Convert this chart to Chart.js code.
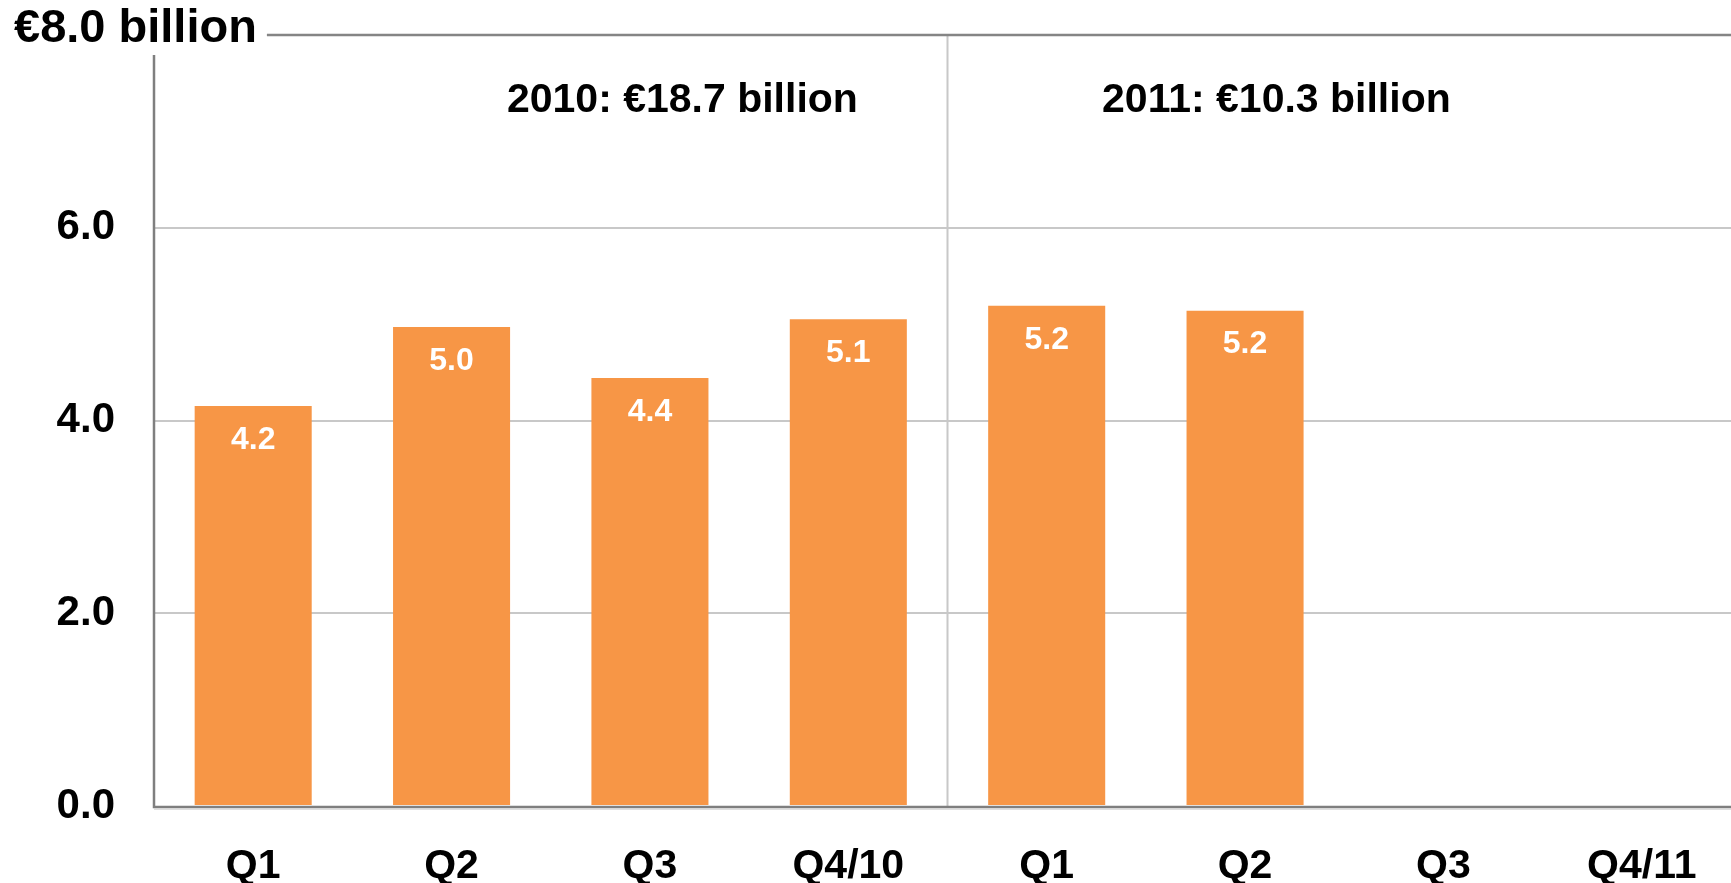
<!DOCTYPE html>
<html>
<head>
<meta charset="utf-8">
<script src="https://cdn.jsdelivr.net/npm/chart.js@4"></script>
<style>
  body { margin: 0; overflow: hidden; background: #fff; }
  #wrap { width: 1745px; height: 883px; }
</style>
</head>
<body>
<div id="wrap"><canvas id="RevenueChart"></canvas></div>
<script>
var quarters = ['Q1', 'Q2', 'Q3', 'Q4/10', 'Q1', 'Q2', 'Q3', 'Q4/11'];
var revenue = [4.15, 4.97, 4.44, 5.05, 5.19, 5.14, null, null];
var revenueLabels = ['4.2', '5.0', '4.4', '5.1', '5.2', '5.2', '', ''];
var yearTotals = ['2010: €18.7 billion', '2011: €10.3 billion'];
var yearLabelAt = [2, 5];
var axisTitle = '€8.0 billion';

var FONT = "'Liberation Sans', Arial, sans-serif";

var decor = {
    id: 'decor',
    beforeDatasetsDraw: function (chart) {
        var c = chart.ctx, area = chart.chartArea;
        var x = chart.scales.x, y = chart.scales.y;
        c.save();
        // year divider
        var mid = (x.getPixelForValue(3) + x.getPixelForValue(4)) / 2;
        c.strokeStyle = '#c8c8c8';
        c.lineWidth = 2;
        c.beginPath();
        c.moveTo(mid, y.getPixelForValue(8));
        c.lineTo(mid, area.bottom);
        c.stroke();
        // top line at 8.0
        c.font = 'bold 47px ' + FONT;
        var w = c.measureText(axisTitle).width;
        c.strokeStyle = '#858585';
        c.lineWidth = 2.5;
        c.beginPath();
        c.moveTo(14 + w + 10, y.getPixelForValue(8));
        c.lineTo(area.right, y.getPixelForValue(8));
        c.stroke();
        c.restore();
    },
    afterDatasetsDraw: function (chart) {
        var c = chart.ctx, area = chart.chartArea;
        var x = chart.scales.x, y = chart.scales.y;
        var meta = chart.getDatasetMeta(0);
        c.save();
        // axes
        c.strokeStyle = '#7f7f7f';
        c.lineWidth = 2.5;
        c.beginPath();
        c.moveTo(area.left, y.getPixelForValue(8) + 20);
        c.lineTo(area.left, area.bottom + 1);
        c.lineTo(area.right, area.bottom + 1);
        c.stroke();
        c.strokeStyle = '#d4d4d4';
        c.lineWidth = 1.5;
        c.beginPath();
        c.moveTo(area.left, area.bottom + 3);
        c.lineTo(area.right, area.bottom + 3);
        c.stroke();
        // value labels
        c.fillStyle = '#ffffff';
        c.font = 'bold 32px ' + FONT;
        c.textAlign = 'center';
        c.textBaseline = 'middle';
        meta.data.forEach(function (bar, i) {
            if (revenue[i] == null) return;
            c.fillText(revenueLabels[i], bar.x, bar.y + 34);
        });
        // year totals
        c.fillStyle = '#000000';
        c.font = 'bold 41px ' + FONT;
        c.textAlign = 'left';
        yearTotals.forEach(function (t, i) {
            c.fillText(t, x.getPixelForValue(yearLabelAt[i]) - 143, 101);
        });
        // axis title
        c.font = 'bold 47px ' + FONT;
        c.fillText(axisTitle, 14, y.getPixelForValue(8) - 6);
        c.restore();
    }
};

var ctx = document.getElementById('RevenueChart').getContext('2d');
var revenueChart = new Chart(ctx, {
    type: 'bar',
    data: {
        labels: quarters,
        datasets: [{
            label: 'Revenue',
            data: revenue,
            backgroundColor: '#F79646',
            borderWidth: 0,
            categoryPercentage: 1,
            barPercentage: 0.59
        }]
    },
    options: {
        responsive: true,
        maintainAspectRatio: false,
        animation: false,
        layout: { padding: { top: 35, right: 4, left: 0, bottom: 0 } },
        plugins: {
            legend: { display: false },
            tooltip: { enabled: false }
        },
        scales: {
            x: {
                grid: { display: false },
                border: { display: false },
                ticks: {
                    color: '#000',
                    padding: 28,
                    font: { family: FONT, size: 41, weight: 'bold' }
                },
                afterFit: function (scale) {
                    scale.height = 77;
                    scale.paddingLeft = 0;
                    scale.paddingRight = 0;
                }
            },
            y: {
                min: 0,
                max: 8,
                border: { display: false },
                grid: {
                    drawTicks: false,
                    lineWidth: 2,
                    color: function (c) {
                        return (c.tick.value === 0 || c.tick.value === 8) ? 'rgba(0,0,0,0)' : '#c8c8c8';
                    }
                },
                ticks: {
                    stepSize: 2,
                    color: '#000',
                    padding: 39,
                    font: { family: FONT, size: 42, weight: 'bold' },
                    callback: function (v) { return v === 8 ? '' : v.toFixed(1); }
                },
                afterFit: function (scale) {
                    scale.width = 154;
                    scale.paddingTop = 0;
                    scale.paddingBottom = 0;
                }
            }
        }
    },
    plugins: [decor]
});
</script>
</body>
</html>
